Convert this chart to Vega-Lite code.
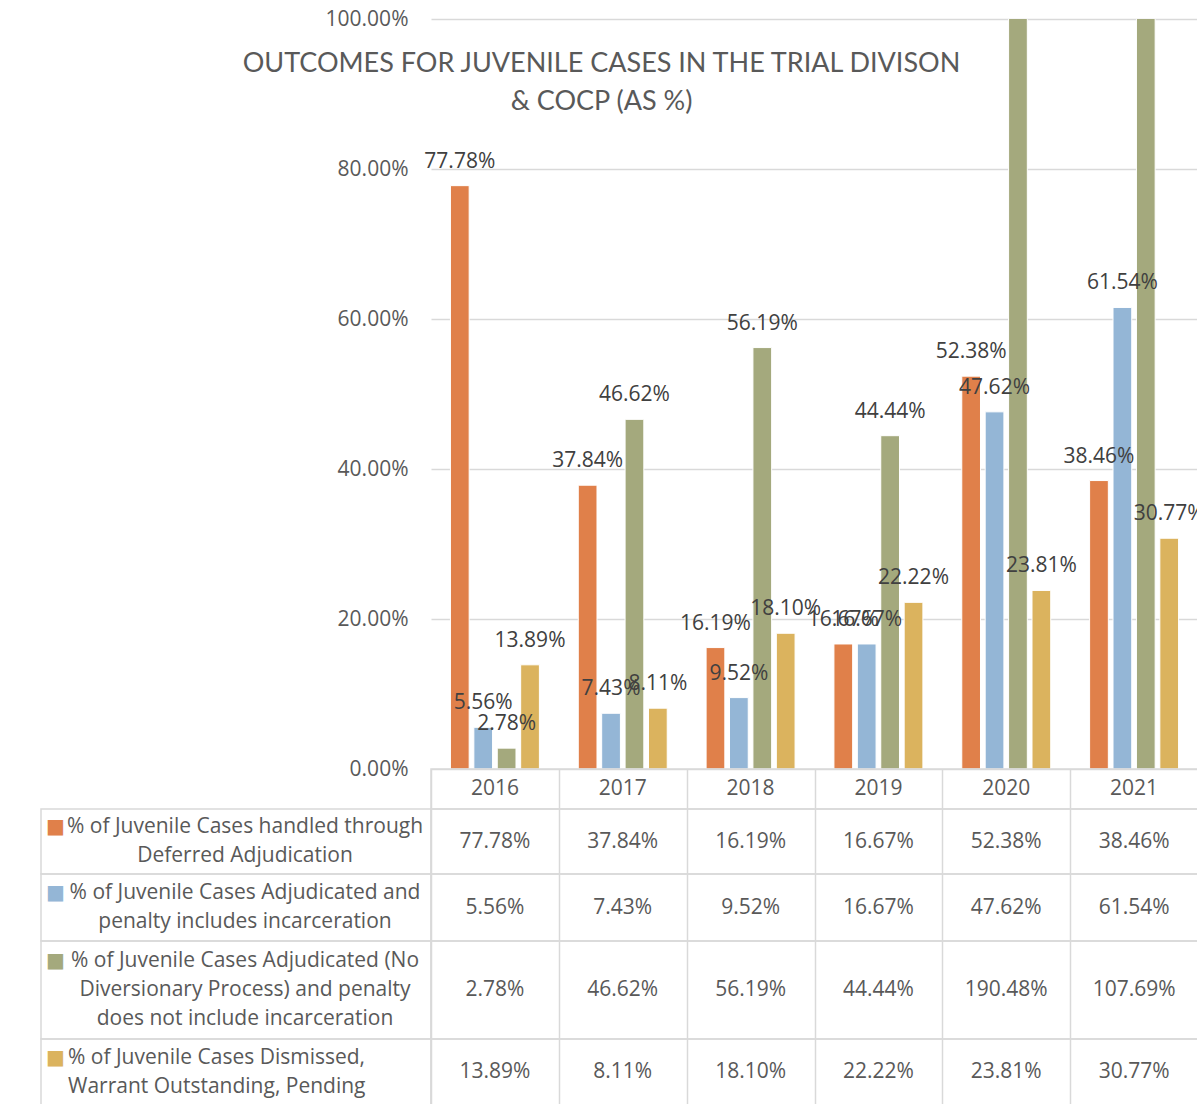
{
  "$schema": "https://vega.github.io/schema/vega-lite/v6.json",
  "autosize": {"type": "pad"},
  "padding": {"left": 40, "top": 8, "right": 0, "bottom": 0},
  "background": "white",
  "bounds": "flush",
  "spacing": 0,
  "columns": 2,
  "datasets": {
    "main": [
      {"year": "2016", "key": "deferred", "value": 0.7778},
      {"year": "2016", "key": "incarcerated", "value": 0.0556},
      {"year": "2016", "key": "adjudicated", "value": 0.0278},
      {"year": "2016", "key": "dismissed", "value": 0.1389},
      {"year": "2017", "key": "deferred", "value": 0.3784},
      {"year": "2017", "key": "incarcerated", "value": 0.0743},
      {"year": "2017", "key": "adjudicated", "value": 0.4662},
      {"year": "2017", "key": "dismissed", "value": 0.0811},
      {"year": "2018", "key": "deferred", "value": 0.1619},
      {"year": "2018", "key": "incarcerated", "value": 0.0952},
      {"year": "2018", "key": "adjudicated", "value": 0.5619},
      {"year": "2018", "key": "dismissed", "value": 0.1810},
      {"year": "2019", "key": "deferred", "value": 0.1667},
      {"year": "2019", "key": "incarcerated", "value": 0.1667},
      {"year": "2019", "key": "adjudicated", "value": 0.4444},
      {"year": "2019", "key": "dismissed", "value": 0.2222},
      {"year": "2020", "key": "deferred", "value": 0.5238},
      {"year": "2020", "key": "incarcerated", "value": 0.4762},
      {"year": "2020", "key": "adjudicated", "value": 1.9048},
      {"year": "2020", "key": "dismissed", "value": 0.2381},
      {"year": "2021", "key": "deferred", "value": 0.3846},
      {"year": "2021", "key": "incarcerated", "value": 0.6154},
      {"year": "2021", "key": "adjudicated", "value": 1.0769},
      {"year": "2021", "key": "dismissed", "value": 0.3077}
    ],
    "legend": [
      {"key": "deferred", "label": "% of Juvenile Cases handled through|Deferred Adjudication"},
      {"key": "incarcerated", "label": "% of Juvenile Cases Adjudicated and|penalty includes incarceration"},
      {"key": "adjudicated", "label": "% of Juvenile Cases Adjudicated  (No|Diversionary Process) and penalty|does not include incarceration"},
      {"key": "dismissed", "label": "% of Juvenile Cases Dismissed,|Warrant Outstanding, Pending"}
    ]
  },
  "config": {
    "font": "Open Sans",
    "view": {"stroke": "#d9d9d9", "strokeWidth": 1.5},
    "axis": {"gridColor": "#d9d9d9", "gridWidth": 1.5},
    "text": {"font": "Open Sans", "fontSize": 21, "color": "#595959"}
  },
  "concat": [
    {
      "width": 390, "height": 750,
      "view": {"stroke": null},
      "data": {"values": [{"blank": ""}]},
      "mark": {"type": "text"},
      "encoding": {"text": {"field": "blank"}}
    },
    {
      "width": 767, "height": 750,
      "view": {"stroke": null},
      "data": {"name": "main"},
      "title": {
        "text": ["OUTCOMES FOR JUVENILE CASES IN THE TRIAL DIVISON", "& COCP (AS %)"],
        "anchor": "middle", "frame": "group", "orient": "top",
        "offset": -108, "dx": -213,
        "font": "Lato", "fontSize": 27, "fontWeight": "normal",
        "color": "#595959", "lineHeight": 38
      },
      "encoding": {
        "x": {"field": "year", "type": "nominal", "axis": null, "scale": {"paddingInner": 0, "paddingOuter": 0}},
        "xOffset": {"field": "key", "type": "nominal", "sort": ["deferred", "incarcerated", "adjudicated", "dismissed"], "scale": {"paddingInner": 0.2, "paddingOuter": 0.83}},
        "y": {
          "field": "value", "type": "quantitative",
          "scale": {"domain": [0, 1], "nice": false},
          "axis": {"values": [0, 0.2, 0.4, 0.6, 0.8, 1], "format": ".2%", "title": null, "domain": false, "ticks": false, "grid": true, "labelPadding": 23, "labelFont": "Open Sans", "labelFontSize": 21, "labelColor": "#595959"}
        }
      },
      "layer": [
        {
          "mark": {"type": "bar", "clip": true, "stroke": "white", "strokeWidth": 1},
          "encoding": {
            "color": {"field": "key", "type": "nominal", "legend": null,
              "scale": {"domain": ["deferred", "incarcerated", "adjudicated", "dismissed"], "range": ["#E0804A", "#94B6D6", "#A4A97D", "#DBB35E"]}}
          }
        },
        {
          "transform": [{"filter": "datum.value <= 1"}],
          "mark": {"type": "text", "baseline": "alphabetic", "dy": -18, "fontSize": 21, "color": "#404040"},
          "encoding": {"text": {"field": "value", "type": "quantitative", "format": ".2%"}}
        }
      ]
    },
    {
      "width": 390, "height": 40,
      "view": {"stroke": null},
      "data": {"values": [{"blank": ""}]},
      "mark": {"type": "text"},
      "encoding": {"text": {"field": "blank"}}
    },
    {
      "width": 767, "height": 40,
      "data": {"name": "main"},
      "transform": [{"filter": "datum.key == 'deferred'"}],
      "mark": {"type": "text"},
      "encoding": {
        "x": {"field": "year", "type": "nominal", "scale": {"paddingInner": 0, "paddingOuter": 0}, "axis": {"grid": true, "tickBand": "extent", "labels": false, "ticks": false, "domain": false, "title": null}},
        "text": {"field": "year"}
      }
    },
    {
      "width": 390, "height": 65,
      "view": {"stroke": "#d9d9d9", "strokeWidth": 1.5},
      "data": {"name": "legend"},
      "transform": [{"filter": "datum.key == 'deferred'"}],
      "layer": [
        {"mark": {"type": "text", "align": "center", "dx": 9, "dy": -14.5, "lineBreak": "|", "lineHeight": 29}, "encoding": {"text": {"field": "label"}}},
        {"mark": {"type": "text", "text": "■", "font": "DejaVu Sans", "fontSize": 20, "align": "left", "dx": -190, "dy": -14.5, "color": "#E0804A"}}
      ]
    },
    {
      "width": 767, "height": 65,
      "data": {"name": "main"},
      "transform": [{"filter": "datum.key == 'deferred'"}],
      "mark": {"type": "text"},
      "encoding": {
        "x": {"field": "year", "type": "nominal", "scale": {"paddingInner": 0, "paddingOuter": 0}, "axis": {"grid": true, "tickBand": "extent", "labels": false, "ticks": false, "domain": false, "title": null}},
        "text": {"field": "value", "type": "quantitative", "format": ".2%"}
      }
    },
    {
      "width": 390, "height": 67,
      "view": {"stroke": "#d9d9d9", "strokeWidth": 1.5},
      "data": {"name": "legend"},
      "transform": [{"filter": "datum.key == 'incarcerated'"}],
      "layer": [
        {"mark": {"type": "text", "align": "center", "dx": 9, "dy": -14.5, "lineBreak": "|", "lineHeight": 29}, "encoding": {"text": {"field": "label"}}},
        {"mark": {"type": "text", "text": "■", "font": "DejaVu Sans", "fontSize": 20, "align": "left", "dx": -190, "dy": -14.5, "color": "#94B6D6"}}
      ]
    },
    {
      "width": 767, "height": 67,
      "data": {"name": "main"},
      "transform": [{"filter": "datum.key == 'incarcerated'"}],
      "mark": {"type": "text"},
      "encoding": {
        "x": {"field": "year", "type": "nominal", "scale": {"paddingInner": 0, "paddingOuter": 0}, "axis": {"grid": true, "tickBand": "extent", "labels": false, "ticks": false, "domain": false, "title": null}},
        "text": {"field": "value", "type": "quantitative", "format": ".2%"}
      }
    },
    {
      "width": 390, "height": 98,
      "view": {"stroke": "#d9d9d9", "strokeWidth": 1.5},
      "data": {"name": "legend"},
      "transform": [{"filter": "datum.key == 'adjudicated'"}],
      "layer": [
        {"mark": {"type": "text", "align": "center", "dx": 9, "dy": -29, "lineBreak": "|", "lineHeight": 29}, "encoding": {"text": {"field": "label"}}},
        {"mark": {"type": "text", "text": "■", "font": "DejaVu Sans", "fontSize": 20, "align": "left", "dx": -190, "dy": -29, "color": "#A4A97D"}}
      ]
    },
    {
      "width": 767, "height": 98,
      "data": {"name": "main"},
      "transform": [{"filter": "datum.key == 'adjudicated'"}],
      "mark": {"type": "text"},
      "encoding": {
        "x": {"field": "year", "type": "nominal", "scale": {"paddingInner": 0, "paddingOuter": 0}, "axis": {"grid": true, "tickBand": "extent", "labels": false, "ticks": false, "domain": false, "title": null}},
        "text": {"field": "value", "type": "quantitative", "format": ".2%"}
      }
    },
    {
      "width": 390, "height": 66,
      "view": {"stroke": "#d9d9d9", "strokeWidth": 1.5},
      "data": {"name": "legend"},
      "transform": [{"filter": "datum.key == 'dismissed'"}],
      "layer": [
        {"mark": {"type": "text", "align": "left", "dx": -168, "dy": -14.5, "lineBreak": "|", "lineHeight": 29}, "encoding": {"text": {"field": "label"}}},
        {"mark": {"type": "text", "text": "■", "font": "DejaVu Sans", "fontSize": 20, "align": "left", "dx": -190, "dy": -14.5, "color": "#DBB35E"}}
      ]
    },
    {
      "width": 767, "height": 66,
      "data": {"name": "main"},
      "transform": [{"filter": "datum.key == 'dismissed'"}],
      "mark": {"type": "text"},
      "encoding": {
        "x": {"field": "year", "type": "nominal", "scale": {"paddingInner": 0, "paddingOuter": 0}, "axis": {"grid": true, "tickBand": "extent", "labels": false, "ticks": false, "domain": false, "title": null}},
        "text": {"field": "value", "type": "quantitative", "format": ".2%"}
      }
    }
  ]
}
